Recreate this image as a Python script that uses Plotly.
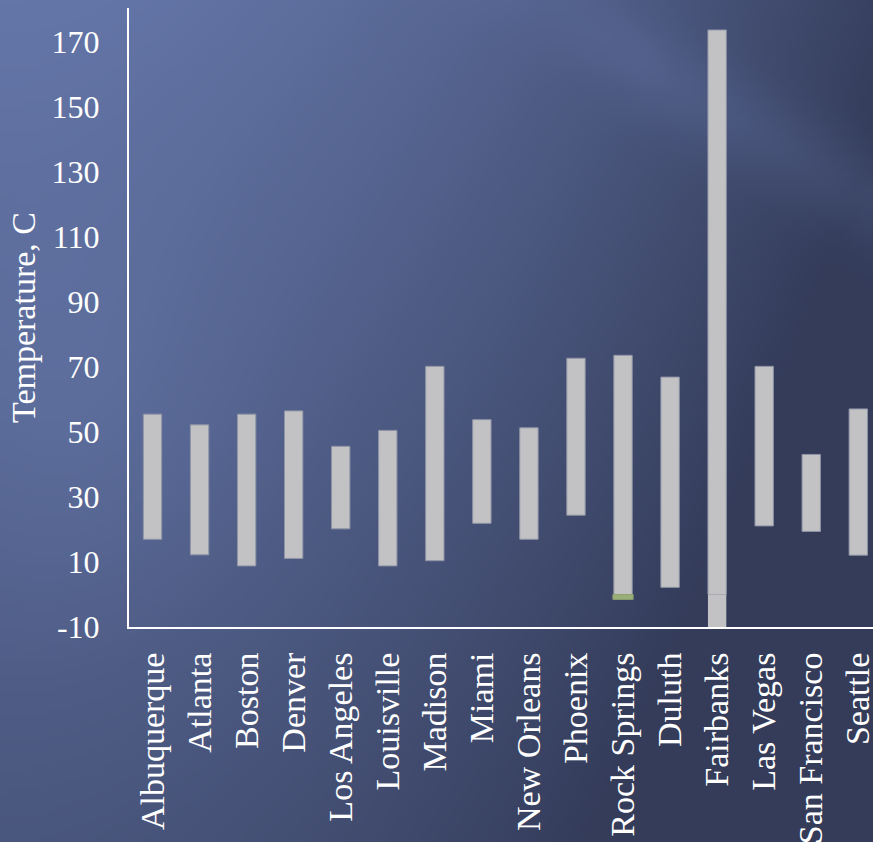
import base64
import math
import struct
import zlib

import plotly.graph_objects as go

# Daily temperature spread per city (low / high)
cities = ["Albuquerque", "Atlanta", "Boston", "Denver", "Los Angeles", "Louisville",
          "Madison", "Miami", "New Orleans", "Phoenix", "Rock Springs", "Duluth",
          "Fairbanks", "Las Vegas", "San Francisco", "Seattle"]
low_temp = [17.0, 12.2, 8.8, 11.1, 20.2, 8.8, 10.4, 21.9, 17.0, 24.4, 0.0, 2.2,
            0.0, 21.1, 19.4, 12.1]
high_temp = [55.5, 52.2, 55.5, 56.5, 45.6, 50.5, 70.2, 53.8, 51.3, 72.7, 73.6, 66.9,
             173.7, 70.2, 43.1, 57.1]

# Portions that extend below zero
below_cities = ["Rock Springs", "Fairbanks"]
below_low = [-1.5, -40.0]
below_colors = ["#9aae78", "#c2c2c4"]

y_ticks = [-10, 10, 30, 50, 70, 90, 110, 130, 150, 170]
y_tick_text = ["-10", "10", "30", "50", "70", "90", "110", "130", "150", "170"]

W_PX, H_PX = 873, 842
L, R, T, B = 129, 0, 8, 215
FONT = "Liberation Serif, Palatino Linotype, serif"


def gradient_png(w, h):
    """Diagonal slate-blue backdrop encoded as a PNG data URI."""
    light = (100, 118, 168)
    dark = (52, 60, 90)
    dx, dy = 140.0, 83.0
    n = math.hypot(dx, dy)
    rows = []
    for j in range(h):
        py = j / (h - 1) * H_PX
        row = bytearray([0])
        for i in range(w):
            px = i / (w - 1) * W_PX
            xn, yn = px / W_PX, py / H_PX
            t = 1.0 - (0.9 * xn ** 1.8 + 0.55 * yn)
            t = max(0.0, min(1.0, t))
            # soft light streak across the upper right
            d = abs((px - 540.0) * dy - py * dx) / n
            t += 0.2 * math.exp(-(d / 45.0) ** 2) * min(1.0, max(0.3, (px - 500) / 150.0))
            # lighter haze on the left side
            t += 0.12 * math.exp(-(((px - 80) / 170.0) ** 2 + ((py - 430) / 200.0) ** 2))
            t = max(0.0, min(1.0, t))
            row.extend(int(dark[k] + (light[k] - dark[k]) * t) for k in range(3))
        rows.append(bytes(row))
    raw = b"".join(rows)

    def chunk(tag, data):
        c = struct.pack(">I", len(data)) + tag + data
        return c + struct.pack(">I", zlib.crc32(tag + data) & 0xFFFFFFFF)

    png = b"\x89PNG\r\n\x1a\n"
    png += chunk(b"IHDR", struct.pack(">IIBBBBB", w, h, 8, 2, 0, 0, 0))
    png += chunk(b"IDAT", zlib.compress(raw, 9))
    png += chunk(b"IEND", b"")
    return "data:image/png;base64," + base64.b64encode(png).decode()


fig = go.Figure()

fig.add_trace(go.Bar(
    x=cities,
    y=[h - l for h, l in zip(high_temp, low_temp)],
    base=low_temp,
    width=0.39,
    marker=dict(color="#c2c2c4", line=dict(color="#8f94a6", width=1)),
    showlegend=False,
))

fig.add_trace(go.Bar(
    x=below_cities,
    y=[-v for v in below_low],
    base=below_low,
    width=[0.43, 0.39],
    marker=dict(color=below_colors, line=dict(color=["#8ea06e", "#c2c2c4"], width=[1, 0])),
    showlegend=False,
))

plot_w = W_PX - L - R
plot_h = H_PX - T - B
cat_px = 47.05
y_per_px = 3.25

fig.update_layout(
    width=W_PX,
    height=H_PX,
    margin=dict(l=L, r=R, t=T, b=B, pad=0, autoexpand=False),
    barmode="overlay",
    paper_bgcolor="#48557a",
    plot_bgcolor="rgba(0,0,0,0)",
    font=dict(family=FONT, color="white", size=32),
    images=[dict(
        source=gradient_png(175, 169),
        xref="paper", yref="paper",
        x=-L / plot_w, y=1 + T / plot_h,
        sizex=W_PX / plot_w, sizey=H_PX / plot_h,
        xanchor="left", yanchor="top",
        sizing="stretch", layer="below",
    )],
    xaxis=dict(
        type="category",
        categoryorder="array",
        categoryarray=cities,
        range=[-0.5, -0.5 + plot_w / cat_px],
        automargin=False,
        showline=True, linecolor="white", linewidth=2,
        showgrid=False, zeroline=False,
        ticks="", tickangle=-90,
        ticklabelstandoff=10,
        tickfont=dict(family=FONT, size=34, color="white"),
    ),
    yaxis=dict(
        range=[-10, -10 + plot_h / y_per_px],
        automargin=False,
        tickmode="array", tickvals=y_ticks, ticktext=y_tick_text,
        showline=True, linecolor="white", linewidth=2,
        showgrid=False, zeroline=False,
        ticks="",
        ticklabelstandoff=21,
        tickfont=dict(family=FONT, size=32, color="white"),
        title=dict(text="Temperature, C", standoff=6,
                   font=dict(family=FONT, size=34, color="white")),
    ),
)

fig.write_html("out.html")
